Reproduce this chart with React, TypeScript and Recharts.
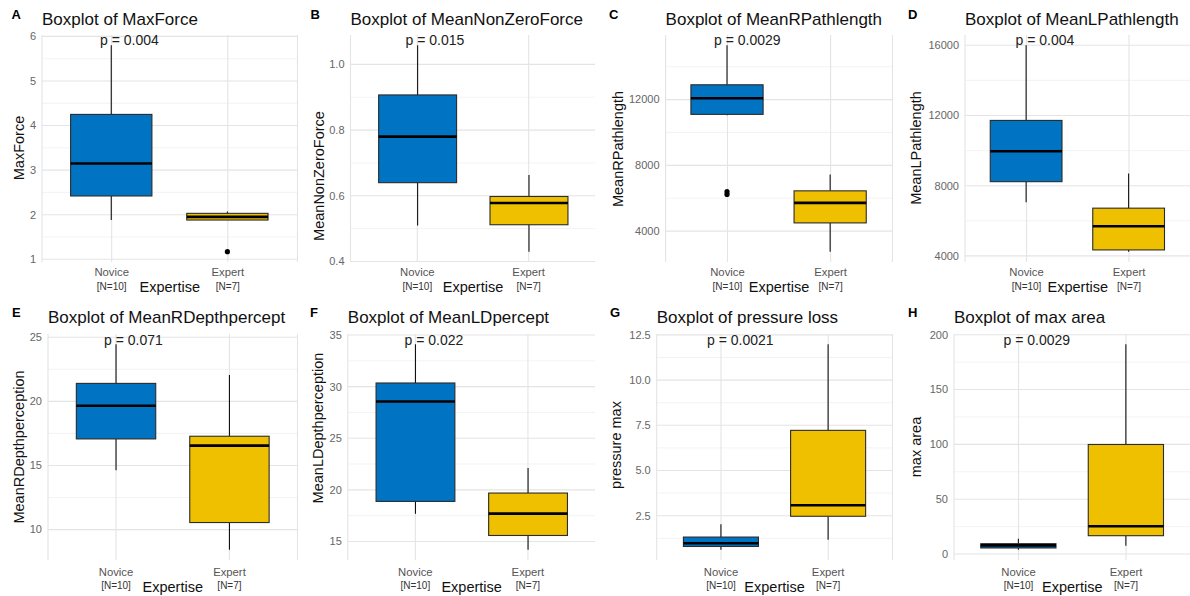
import React from 'react';
import { ComposedChart, Bar, XAxis, YAxis, CartesianGrid } from 'recharts';

const FONT = '"Liberation Sans", Arial, Helvetica, sans-serif';
const PANEL_W = 297.5;
const PANEL_H = 298;

const groups = ['Novice', 'Expert'];
const groupCounts = ['[N=10]', '[N=7]'];
const boxColors = ['#0073C2', '#EFC000'];

// each group: [lower whisker, Q1, median, Q3, upper whisker]
const maxForce = [[1.88, 2.42, 3.15, 4.25, 5.8], [1.88, 1.88, 1.95, 2.03, 2.07]];
const maxForceOut = [[], [1.17]];
const maxForceTicks = [1, 2, 3, 4, 5, 6];
const maxForceMinor = [1.5, 2.5, 3.5, 4.5, 5.5];

const meanNonZero = [[0.51, 0.64, 0.78, 0.907, 1.058], [0.43, 0.512, 0.578, 0.598, 0.663]];
const meanNonZeroTicks = [0.4, 0.6, 0.8, 1.0];
const meanNonZeroMinor = [0.5, 0.7, 0.9];

const meanRPath = [[11050, 11100, 12080, 12900, 15300], [2750, 4500, 5720, 6450, 7450]];
const meanRPathOut = [[6400, 6230], []];
const meanRPathTicks = [4000, 8000, 12000];
const meanRPathMinor = [6000, 10000, 14000];

const meanLPath = [[7050, 8230, 9960, 11720, 16000], [4240, 4340, 5690, 6720, 8690]];
const meanLPathTicks = [4000, 8000, 12000, 16000];
const meanLPathMinor = [6000, 10000, 14000];

const meanRDepth = [[14.63, 17.07, 19.66, 21.4, 24.45], [8.43, 10.55, 16.55, 17.28, 22.05]];
const meanRDepthTicks = [10, 15, 20, 25];
const meanRDepthMinor = [12.5, 17.5, 22.5];

const meanLDepth = [[17.68, 18.88, 28.55, 30.35, 34.1], [14.2, 15.58, 17.7, 19.69, 22.12]];
const meanLDepthTicks = [15, 20, 25, 30, 35];
const meanLDepthMinor = [17.5, 22.5, 27.5, 32.5];

const pressureMax = [[0.62, 0.8, 0.98, 1.32, 2.03], [1.17, 2.47, 3.08, 7.22, 11.98]];
const pressureTicks = [2.5, 5.0, 7.5, 10.0, 12.5];
const pressureMinor = [1.25, 3.75, 6.25, 8.75, 11.25];

const maxArea = [[3.9, 5.5, 7.9, 9.4, 14], [7.6, 16.7, 25.3, 99.9, 191.3]];
const maxAreaTicks = [0, 50, 100, 150, 200];
const maxAreaMinor = [25, 75, 125, 175];

const noOutliers = [[], []];

const panels = [
  { letter: 'A', title: 'Boxplot of MaxForce', yLabel: 'MaxForce', p: 'p = 0.004', stats: maxForce, out: maxForceOut, ticks: maxForceTicks, minor: maxForceMinor, digits: 0, plotLeft: 42, letterX: 11.5, pX: 100, yLabelX: 24, yLabelY: 148 },
  { letter: 'B', title: 'Boxplot of MeanNonZeroForce', yLabel: 'MeanNonZeroForce', p: 'p = 0.015', stats: meanNonZero, out: noOutliers, ticks: meanNonZeroTicks, minor: meanNonZeroMinor, digits: 1, plotLeft: 52.5, letterX: 12.5, pX: 107.5, yLabelX: 25.5, yLabelY: 176 },
  { letter: 'C', title: 'Boxplot of MeanRPathlength', yLabel: 'MeanRPathlength', p: 'p = 0.0029', stats: meanRPath, out: meanRPathOut, ticks: meanRPathTicks, minor: meanRPathMinor, digits: 0, plotLeft: 70.6, letterX: 14, pX: 119, yLabelX: 27.5, yLabelY: 149 },
  { letter: 'D', title: 'Boxplot of MeanLPathlength', yLabel: 'MeanLPathlength', p: 'p = 0.004', stats: meanLPath, out: noOutliers, ticks: meanLPathTicks, minor: meanLPathMinor, digits: 0, plotLeft: 72, letterX: 15, pX: 122.5, yLabelX: 28, yLabelY: 148 },
  { letter: 'E', title: 'Boxplot of MeanRDepthpercept', yLabel: 'MeanRDepthperception', p: 'p = 0.071', stats: meanRDepth, out: noOutliers, ticks: meanRDepthTicks, minor: meanRDepthMinor, digits: 0, plotLeft: 48, letterX: 12, pX: 104, yLabelX: 23.5, yLabelY: 149 },
  { letter: 'F', title: 'Boxplot of MeanLDpercept', yLabel: 'MeanLDepthperception', p: 'p = 0.022', stats: meanLDepth, out: noOutliers, ticks: meanLDepthTicks, minor: meanLDepthMinor, digits: 0, plotLeft: 49.8, letterX: 12, pX: 106.5, yLabelX: 25, yLabelY: 130 },
  { letter: 'G', title: 'Boxplot of pressure loss', yLabel: 'pressure max', p: 'p = 0.0021', stats: pressureMax, out: noOutliers, ticks: pressureTicks, minor: pressureMinor, digits: 1, plotLeft: 61.7, letterX: 15, pX: 112, yLabelX: 26, yLabelY: 147 },
  { letter: 'H', title: 'Boxplot of max area', yLabel: 'max area', p: 'p = 0.0029', stats: maxArea, out: noOutliers, ticks: maxAreaTicks, minor: maxAreaMinor, digits: 0, plotLeft: 61, letterX: 15, pX: 110.5, yLabelX: 28, yLabelY: 149 },
];

// ggplot-like 5% expansion around the data
const expandDomain = (stats: number[][], out: number[][]) => {
  const vals = stats.flat().concat(out.flat());
  const lo = Math.min(...vals);
  const hi = Math.max(...vals);
  const pad = (hi - lo) * 0.05;
  return [lo - pad, hi + pad];
};

// draws whiskers, box, median and outliers from the bar rect that recharts scaled for [Q1, Q3]
const BoxShape = (props: any) => {
  const { x, y, width, height, payload } = props;
  const top = Math.min(y, y + height);
  const h = Math.abs(height);
  const s = payload.stats;
  const k = h / (s[3] - s[1]);
  const py = (v: number) => top + (s[3] - v) * k;
  const cx = x + width / 2;
  return (
    <g>
      <line x1={cx} x2={cx} y1={py(s[4])} y2={py(s[3])} stroke="#111" strokeWidth={1.1} />
      <line x1={cx} x2={cx} y1={py(s[1])} y2={py(s[0])} stroke="#111" strokeWidth={1.1} />
      <rect x={x} y={top} width={width} height={h} fill={payload.color} stroke="#2b2b2b" strokeWidth={1.1} />
      <line x1={x} x2={x + width} y1={py(s[2])} y2={py(s[2])} stroke="#000" strokeWidth={2.6} />
      {payload.out.map((v: number, i: number) => (
        <circle key={i} cx={cx} cy={py(v)} r={2.6} fill="#000" />
      ))}
    </g>
  );
};

const BoxPanel = ({ cfg, idx }: { cfg: any; idx: number }) => {
  const row = idx < 4 ? 0 : 1;
  const col = idx % 4;
  const plotTop = row === 0 ? 35 : 36;
  const plotBottom = 262;
  const plotW = PANEL_W - cfg.plotLeft;
  const unit = plotW / 2.2;
  const pad = unit * 0.1;
  const domain = expandDomain(cfg.stats, cfg.out);
  const data = groups.map((g, i) => ({
    group: g,
    range: [cfg.stats[i][1], cfg.stats[i][3]],
    stats: cfg.stats[i],
    out: cfg.out[i],
    color: boxColors[i],
  }));
  const tickDy = row === 0 ? [14, 27.5] : [15.5, 29];

  const GroupTick = (p: any) => {
    const i = groups.indexOf(p.payload.value);
    return (
      <g>
        <text x={p.x} y={plotBottom + tickDy[0]} textAnchor="middle" fontSize={11.3} fill="#555" fontFamily={FONT}>
          {p.payload.value}
        </text>
        <text x={p.x} y={plotBottom + tickDy[1]} textAnchor="middle" fontSize={10} fill="#333" fontFamily={FONT}>
          {groupCounts[i]}
        </text>
      </g>
    );
  };

  return (
    <div style={{ position: 'absolute', left: col * PANEL_W, top: row * PANEL_H, width: PANEL_W, height: PANEL_H }}>
      <ComposedChart
        width={PANEL_W}
        height={PANEL_H}
        data={data}
        margin={{ top: plotTop, right: 0, bottom: 0, left: 0 }}
        style={{ overflow: 'visible' }}
      >
        <CartesianGrid horizontalValues={cfg.minor} vertical={false} stroke="#F0F0F0" strokeWidth={0.8} />
        <CartesianGrid horizontalValues={cfg.ticks} stroke="#E4E4E4" strokeWidth={1.1} />
        <XAxis
          dataKey="group"
          type="category"
          padding={{ left: pad, right: pad }}
          height={PANEL_H - plotBottom}
          axisLine={false}
          tickLine={false}
          tickSize={0}
          tick={GroupTick}
          interval={0}
        />
        <YAxis
          type="number"
          domain={domain}
          allowDataOverflow
          ticks={cfg.ticks}
          width={cfg.plotLeft}
          axisLine={false}
          tickLine={false}
          tickSize={0}
          tickMargin={6}
          tick={{ fontSize: 11, fill: '#666', fontFamily: FONT }}
          tickFormatter={(v: number) => v.toFixed(cfg.digits)}
        />
        <Bar dataKey="range" barSize={unit * 0.7} shape={BoxShape} isAnimationActive={false} />
      </ComposedChart>
      <svg
        width={PANEL_W}
        height={PANEL_H}
        style={{ position: 'absolute', left: 0, top: 0, pointerEvents: 'none', overflow: 'visible' }}
        fontFamily={FONT}
      >
        <text x={cfg.letterX} y={19} fontSize={13} fontWeight="bold" fill="#000">{cfg.letter}</text>
        <text x={cfg.plotLeft} y={25} fontSize={17} fill="#111">{cfg.title}</text>
        <text x={cfg.pX} y={row === 0 ? 45 : 46.5} fontSize={14} fill="#222">{cfg.p}</text>
        <text
          x={cfg.yLabelX}
          y={cfg.yLabelY}
          fontSize={14.5}
          fill="#111"
          textAnchor="middle"
          transform={`rotate(-90 ${cfg.yLabelX} ${cfg.yLabelY})`}
        >
          {cfg.yLabel}
        </text>
        <text
          x={(cfg.plotLeft + PANEL_W) / 2}
          y={row === 0 ? 291.5 : 293.5}
          fontSize={14.5}
          fill="#111"
          textAnchor="middle"
        >
          Expertise
        </text>
      </svg>
    </div>
  );
}

export default function App() {
  return (
    <div
      style={{
        position: 'absolute',
        left: 0,
        top: 0,
        width: 1190,
        height: 596,
        background: '#fff',
        overflow: 'hidden',
        fontFamily: FONT,
      }}
    >
      {panels.map((cfg, i) => (
        <BoxPanel key={cfg.letter} cfg={cfg} idx={i} />
      ))}
    </div>
  );
}
